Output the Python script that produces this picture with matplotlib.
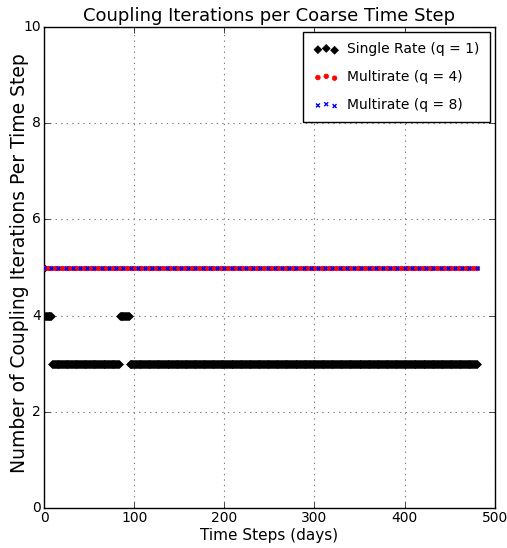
import numpy as np
import matplotlib
matplotlib.use("Agg")
import matplotlib.pyplot as plt

# Coupling iteration counts per coarse time step
single_days = np.arange(0, 481)
single_iters = np.full(single_days.shape, 3)
single_iters[single_days == 0] = 5
single_iters[(single_days >= 1) & (single_days <= 8)] = 4
single_iters[(single_days >= 84) & (single_days <= 94)] = 4

multi4_days = np.arange(0, 481, 4)
multi4_iters = np.full(multi4_days.shape, 5)

multi8_days = np.arange(0, 481, 8)
multi8_iters = np.full(multi8_days.shape, 5)

series_labels = ["Single Rate (q = 1)", "Multirate (q = 4)", "Multirate (q = 8)"]
x_ticks = [0, 100, 200, 300, 400, 500]
y_ticks = [0, 2, 4, 6, 8, 10]

plt.style.use("classic")
plt.rcParams["font.family"] = ["DejaVu Sans"]

fig = plt.figure(figsize=(5.07, 5.48), dpi=100, facecolor="white")
ax = fig.add_axes([0.0868, 0.073, 0.889, 0.8777])

ax.scatter(single_days, single_iters, marker="D", s=16, c="k", edgecolors="k",
           linewidths=0.5, label=series_labels[0], zorder=3)
ax.scatter(multi4_days, multi4_iters, marker="o", s=11, c="r", edgecolors="r",
           linewidths=0.5, label=series_labels[1], zorder=3)
ax.scatter(multi8_days, multi8_iters, marker="x", s=8, c="b", edgecolors="b",
           linewidths=1.0, label=series_labels[2], zorder=4)

ax.set_xlim(0, 500)
ax.set_ylim(0, 10)
ax.set_xticks(x_ticks)
ax.set_yticks(y_ticks)
ax.tick_params(axis="both", labelsize=10, pad=2)
ax.grid(True, color="0.5", linestyle=":", linewidth=0.8)
ax.set_axisbelow(True)

ax.set_title("Coupling Iterations per Coarse Time Step", fontsize=13, pad=4)
ax.set_xlabel("Time Steps (days)", fontsize=11, labelpad=2)
ax.set_ylabel("Number of Coupling Iterations Per Time Step", fontsize=13.5)
ax.yaxis.set_label_coords(-0.034, 0.51)

leg = ax.legend(loc="upper right", scatterpoints=3, fontsize=10,
                borderaxespad=0.35, handletextpad=0.6, handlelength=1.8,
                labelspacing=1.0, borderpad=0.75)
leg.get_frame().set_edgecolor("k")

fig.savefig("out.png", dpi=100, facecolor="white")
